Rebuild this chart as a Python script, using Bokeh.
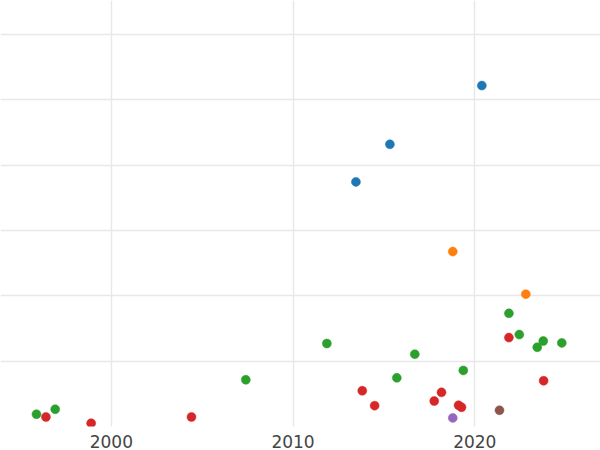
from bokeh.plotting import figure
from bokeh.models import SingleIntervalTicker, Range1d
from bokeh.embed import file_html
from bokeh.resources import INLINE

# Series (year, value)
blue_x = [2013.46, 2015.33, 2020.39]
blue_y = [3.744, 4.319, 5.218]

orange_x = [2018.79, 2022.81]
orange_y = [2.677, 2.026]

green_x = [1995.88, 1996.91, 2007.40, 2011.86, 2015.71, 2016.70, 2019.37,
           2021.88, 2022.45, 2023.44, 2023.77, 2024.79]
green_y = [0.188, 0.264, 0.715, 1.270, 0.745, 1.107, 0.858,
           1.732, 1.407, 1.213, 1.309, 1.279]

red_x = [1996.40, 1998.89, 2004.41, 2013.81, 2014.49, 2017.77, 2018.17,
         2019.11, 2019.27, 2021.88, 2023.79]
red_y = [0.146, 0.050, 0.146, 0.547, 0.319, 0.390, 0.523,
         0.325, 0.294, 1.361, 0.700]

purple_x = [2018.79]
purple_y = [0.131]

brown_x = [2021.36]
brown_y = [0.248]

series = [
    (blue_x, blue_y, "#1f77b4"),
    (orange_x, orange_y, "#ff7f0e"),
    (green_x, green_y, "#2ca02c"),
    (red_x, red_y, "#d62728"),
    (purple_x, purple_y, "#9467bd"),
    (brown_x, brown_y, "#8c564b"),
]

p = figure(width=600, height=450, output_backend="svg", toolbar_location=None,
           x_range=Range1d(1993.90, 2026.92), y_range=Range1d(0, 6.52),
           y_axis_location=None, min_border_left=0, min_border_right=0,
           min_border_top=0, min_border_bottom=0)
p.outline_line_color = None
p.background_fill_color = "white"
p.border_fill_color = "white"

for xs, ys, c in series:
    p.scatter(xs, ys, size=9, fill_color=c, line_color=c, line_width=0.5)

p.xaxis.ticker = SingleIntervalTicker(interval=10)
p.xaxis.axis_line_color = None
p.xaxis.major_tick_line_color = None
p.xaxis.minor_tick_line_color = None
p.xaxis.major_tick_out = 0
p.xaxis.major_tick_in = 0
p.xaxis.major_label_standoff = 4
p.xaxis.major_label_text_font = "DejaVu Sans"
p.xaxis.major_label_text_font_size = "17px"
p.xaxis.major_label_text_color = "#444444"

p.xgrid.ticker = SingleIntervalTicker(interval=10)
p.ygrid.ticker = SingleIntervalTicker(interval=1)
for g in (p.xgrid, p.ygrid):
    g.grid_line_color = "#e8e8e8"
    g.grid_line_width = 1.5

open("out.html", "w").write(file_html(p, INLINE))
